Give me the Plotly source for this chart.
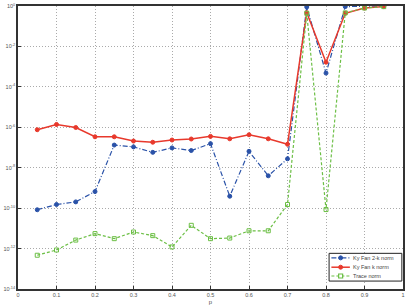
import plotly.graph_objects as go

p_vals = [0.05, 0.10, 0.15, 0.20, 0.25, 0.30, 0.35, 0.40, 0.45, 0.50,
          0.55, 0.60, 0.65, 0.70, 0.75, 0.80, 0.85, 0.90, 0.95]
# values read as -log10(norm)
ky2k_neglog = [10.08, 9.82, 9.69, 9.18, 6.88, 6.97, 7.24, 7.02, 7.15, 6.81,
               9.41, 7.19, 8.40, 7.56, 0.05, 3.32, 0.03, 0.02, 0.0]
kyk_neglog = [6.12, 5.86, 6.01, 6.47, 6.47, 6.68, 6.74, 6.63, 6.58, 6.45,
              6.57, 6.37, 6.57, 6.84, 0.33, 2.78, 0.36, 0.10, 0.03]
trace_neglog = [12.33, 12.07, 11.58, 11.26, 11.51, 11.18, 11.36, 11.92, 10.85, 11.51,
                11.48, 11.12, 11.12, 9.82, 0.36, 10.07, 0.34, 0.10, 0.03]

ky2k = [10 ** (-v) for v in ky2k_neglog]
kyk = [10 ** (-v) for v in kyk_neglog]
trace = [10 ** (-v) for v in trace_neglog]

series_names = ["Ky Fan 2-k norm", "Ky Fan k norm", "Trace norm"]
y_exps = [0, -2, -4, -6, -8, -10, -12, -14]
x_ticks = [0, 0.1, 0.2, 0.3, 0.4, 0.5, 0.6, 0.7, 0.8, 0.9, 1]
x_labels = ["0", "0.1", "0.2", "0.3", "0.4", "0.5", "0.6", "0.7", "0.8", "0.9", "1"]

colors = ["#2a52a8", "#e8392c", "#6cbf45"]
dashes = ["5px,2px,1px,2px", "solid", "3px,2px"]
widths = [1.2, 1.5, 1.2]
symbols = ["circle", "circle", "square-open"]

fig = go.Figure()
for name, ys, c, d, w, s in zip(series_names, [ky2k, kyk, trace], colors, dashes, widths, symbols):
    fig.add_trace(go.Scatter(x=p_vals, y=ys, name=name, mode="lines+markers",
                             line=dict(color=c, width=w, dash=d),
                             marker=dict(symbol=s, size=4, color=c, line=dict(width=1, color=c)),
                             showlegend=False))

# compact legend drawn in plot-area (paper) coordinates
lx0, lx1, ly0, ly1 = 0.808, 0.997, 0.028, 0.126
shapes = [dict(type="rect", xref="paper", yref="paper", x0=lx0, x1=lx1, y0=ly0, y1=ly1,
               line=dict(color="#222222", width=1), fillcolor="white", layer="above")]
annotations = []
entry_y = [0.110, 0.077, 0.046]
for name, c, d, w, s, ey in zip(series_names, colors, dashes, widths, symbols, entry_y):
    shapes.append(dict(type="line", xref="paper", yref="paper", x0=0.814, x1=0.862,
                       y0=ey, y1=ey, line=dict(color=c, width=w, dash=d), layer="above"))
    if s == "circle":
        shapes.append(dict(type="circle", xref="paper", yref="paper",
                           xsizemode="pixel", ysizemode="pixel", xanchor=0.838, yanchor=ey,
                           x0=-2, x1=2, y0=-2, y1=2, fillcolor=c, line=dict(color=c, width=1),
                           layer="above"))
    else:
        shapes.append(dict(type="rect", xref="paper", yref="paper",
                           xsizemode="pixel", ysizemode="pixel", xanchor=0.838, yanchor=ey,
                           x0=-2, x1=2, y0=-2, y1=2, fillcolor="white", line=dict(color=c, width=1.2),
                           layer="above"))
    annotations.append(dict(text=name, xref="paper", yref="paper", x=0.866, y=ey,
                            xanchor="left", yanchor="middle", showarrow=False,
                            font=dict(size=5.5, color="#444444")))

fig.update_layout(
    width=408, height=308,
    margin=dict(l=16, r=3, t=5, b=18),
    paper_bgcolor="white", plot_bgcolor="white",
    font=dict(family="Liberation Sans", size=6, color="#555555"),
    showlegend=False,
    shapes=shapes, annotations=annotations,
    xaxis=dict(range=[0, 1], tickvals=x_ticks, ticktext=x_labels,
               showgrid=True, gridcolor="#aaaaaa", griddash="1px,2px", gridwidth=1,
               showline=True, linecolor="#333333", linewidth=1.5, mirror=True,
               ticks="inside", ticklen=3, tickcolor="#333333", zeroline=False,
               title=dict(text="p", font=dict(size=6, color="#555555"), standoff=2),
               tickfont=dict(size=5.5)),
    yaxis=dict(type="log", range=[-14, 0],
               tickvals=[10 ** e for e in y_exps],
               ticktext=["10<sup>%d</sup>" % e for e in y_exps],
               showgrid=True, gridcolor="#aaaaaa", griddash="1px,2px", gridwidth=1,
               showline=True, linecolor="#333333", linewidth=1.5, mirror=True,
               ticks="inside", ticklen=3, tickcolor="#333333", zeroline=False,
               tickfont=dict(size=5.5)),
)

fig.write_html("out.html")
